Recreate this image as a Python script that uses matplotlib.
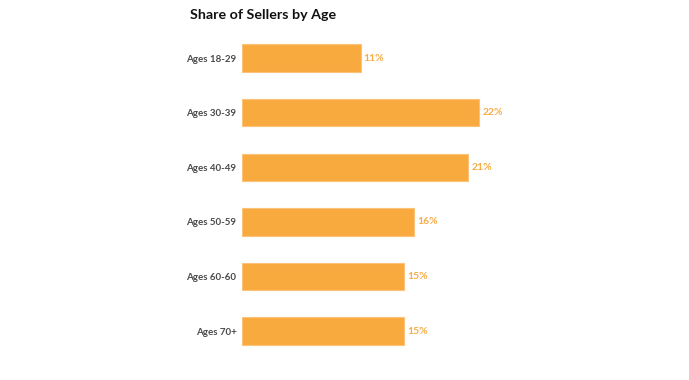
import matplotlib.pyplot as plt

plt.rcParams['font.family'] = ['Lato', 'DejaVu Sans']

ages = ['Ages 18-29', 'Ages 30-39', 'Ages 40-49', 'Ages 50-59', 'Ages 60-60', 'Ages 70+']
share = [11, 22, 21, 16, 15, 15]

fig = plt.figure(figsize=(6.89, 3.80), dpi=100)
ax = fig.add_axes([242 / 689, 0.057, 431 / 689, 0.862])

ypos = list(range(len(ages)))
ax.barh(ypos, share, height=0.5, color='#F9AA3F', edgecolor='#FBC27A', linewidth=0.8)
for y, v in zip(ypos, share):
    ax.text(v + 0.3, y, f'{v}%', va='center', ha='left', fontsize=7.5,
            fontweight='bold', color='#F9AC45')

ax.set_xlim(0, 40)
ax.set_ylim(5.5, -0.5)
ax.set_yticks(ypos)
ax.set_yticklabels(ages, fontsize=7, fontweight='bold', color='#4a4a4a')
ax.tick_params(axis='y', length=0, pad=4)
ax.set_xticks([])
for s in ax.spines.values():
    s.set_visible(False)

fig.text(190 / 689, 1 - 15 / 380, 'Share of Sellers by Age', fontsize=10.3,
         fontweight='bold', color='#111111', ha='left', va='center')

fig.savefig('out.png', dpi=100)
